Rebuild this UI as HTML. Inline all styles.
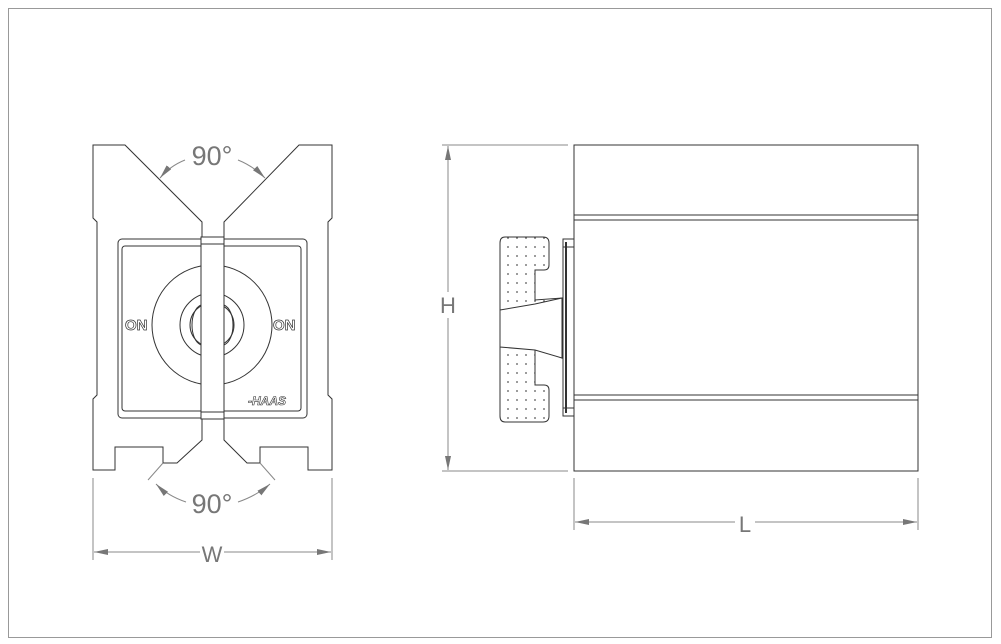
<!DOCTYPE html>
<html><head><style>html,body{margin:0;padding:0;background:#fff}svg{display:block}</style></head>
<body>
<svg width="1001" height="644" viewBox="0 0 1001 644" xmlns="http://www.w3.org/2000/svg" font-family="Liberation Sans, sans-serif">
<defs>
<marker id="ar" viewBox="0 0 10 10" refX="10" refY="5" markerWidth="14" markerHeight="6" markerUnits="userSpaceOnUse" orient="auto-start-reverse" preserveAspectRatio="none"><path d="M0,0 L10,5 L0,10 z" fill="#777"/></marker>
<pattern id="dots" width="9" height="9" patternUnits="userSpaceOnUse"><circle cx="4" cy="4" r="0.9" fill="#555"/></pattern>
</defs>
<rect x="8.5" y="8.5" width="983" height="629" fill="none" stroke="#999" stroke-width="1"/>
<g fill="none" stroke="#333" stroke-width="1">
<!-- front block -->
<path d="M202,222 L202,440 L177,463 L163,463 L163,447 L115,447 L115,470 L93,470 L93,399 L97,395 L97,222 L93,218 L93,145 L125,145 Z" fill="#fff"/>
<path d="M224,222 L224,440 L247,463 L260,463 L260,447 L308,447 L308,470 L332,470 L332,399 L328,395 L328,222 L332,218 L332,145 L299,145 Z" fill="#fff"/>
<rect x="118" y="239" width="189" height="179" rx="4" fill="#fff"/>
<rect x="122" y="246" width="179" height="165" rx="3"/>
<circle cx="212" cy="325" r="60"/>
<circle cx="212" cy="325" r="32"/>
<circle cx="212" cy="325" r="22"/>
<rect x="201" y="237" width="23" height="182" fill="#fff"/>
<line x1="201" y1="244" x2="224" y2="244"/>
<line x1="201" y1="412" x2="224" y2="412"/>
<line x1="201" y1="246" x2="201" y2="410" stroke-dasharray="1.5,1"/>
<path d="M224,305 C236,310 236,340 224,345"/>
<path d="M201,305 C189,310 189,340 201,345"/>
</g>
<g font-size="15" fill="#fff" stroke="#333" stroke-width="0.7" font-weight="bold">
<text x="125" y="330">ON</text>
<text x="273" y="330">ON</text>
</g>
<text x="248" y="405" font-size="12" font-style="italic" font-weight="bold" fill="#fff" stroke="#333" stroke-width="0.6">-HAAS</text>
<!-- side view -->
<g fill="none" stroke="#333" stroke-width="1">
<rect x="574" y="145" width="344" height="326" fill="#fff"/>
<line x1="574" y1="215" x2="918" y2="215"/>
<line x1="574" y1="220" x2="918" y2="220"/>
<line x1="574" y1="395" x2="918" y2="395"/>
<line x1="574" y1="400" x2="918" y2="400"/>
<rect x="563" y="239" width="11" height="177" fill="#fff"/>
<line x1="566" y1="242" x2="566" y2="413" stroke-width="2"/>
<line x1="563" y1="247" x2="574" y2="247"/>
<line x1="563" y1="408" x2="574" y2="408"/>
<path d="M505,237 L543,237 Q549,237 549,243 L549,265 Q549,270 544,270 L535,270 L535,300 L562,298 L562,358 L535,348 L535,385 L544,385 Q549,385 549,390 L549,416 Q549,422 543,422 L505,422 Q500,422 500,416 L500,243 Q500,237 505,237 Z" fill="url(#dots)"/>
<path d="M500,310 L535,304 L562,298 L562,358 L535,350 L500,347 Z" fill="#fff"/>
</g>
<!-- dimensions -->
<g stroke="#888" stroke-width="1" fill="none">
<line x1="442" y1="145" x2="568" y2="145"/>
<line x1="442" y1="471" x2="568" y2="471"/>
<line x1="448" y1="146" x2="448" y2="292" marker-start="url(#ar)"/>
<line x1="448" y1="318" x2="448" y2="470" marker-end="url(#ar)"/>
<line x1="574" y1="478" x2="574" y2="530"/>
<line x1="918" y1="478" x2="918" y2="530"/>
<line x1="575" y1="522" x2="735" y2="522" marker-start="url(#ar)"/>
<line x1="755" y1="522" x2="917" y2="522" marker-end="url(#ar)"/>
<line x1="93" y1="478" x2="93" y2="560"/>
<line x1="332" y1="478" x2="332" y2="560"/>
<line x1="94" y1="552" x2="200" y2="552" marker-start="url(#ar)"/>
<line x1="224" y1="552" x2="331" y2="552" marker-end="url(#ar)"/>
<path d="M185,160 Q170,166 160,178" marker-end="url(#ar)"/>
<path d="M238,160 Q253,166 265,178" marker-end="url(#ar)"/>
<line x1="163" y1="463" x2="148" y2="480"/>
<line x1="260" y1="463" x2="275" y2="480"/>
<path d="M186,502 Q168,496 156,484" marker-end="url(#ar)"/>
<path d="M238,502 Q256,496 270,484" marker-end="url(#ar)"/>
</g>
<g fill="#777" font-size="27" text-anchor="middle">
<text x="212" y="165">90°</text>
<text x="212" y="513">90°</text>
<text x="212" y="562" font-size="22">W</text>
<text x="448" y="313" font-size="22">H</text>
<text x="745" y="532" font-size="22">L</text>
</g>
</svg>
</body></html>
